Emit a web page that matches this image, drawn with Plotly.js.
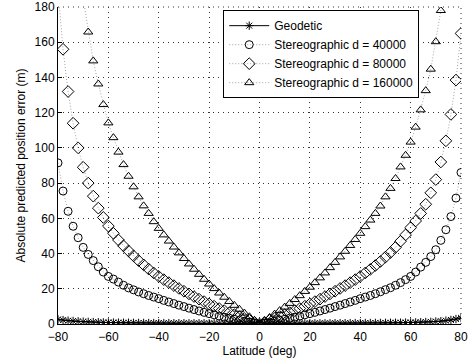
<!DOCTYPE html>
<html>
<head>
<meta charset="utf-8">
<script src="https://cdn.plot.ly/plotly-3.0.1.min.js"></script>
<style>html,body{margin:0;padding:0;background:#fff;}#chart{width:470px;height:362px;}</style>
</head>
<body>
<div id="chart"></div>
<script>
// Latitude (deg), every 2 degrees from -80 to 80
var latitude = [-80,-78,-76,-74,-72,-70,-68,-66,-64,-62,-60,-58,-56,-54,-52,-50,-48,-46,-44,-42,-40,
  -38,-36,-34,-32,-30,-28,-26,-24,-22,-20,-18,-16,-14,-12,-10,-8,-6,-4,-2,0,
  2,4,6,8,10,12,14,16,18,20,22,24,26,28,30,32,34,36,38,40,
  42,44,46,48,50,52,54,56,58,60,62,64,66,68,70,72,74,76,78,80];

var geodetic = [2.6,2.2,1.9,1.7,1.5,1.3,1.2,1.1,1.0,0.9,0.85,0.8,0.75,0.7,0.7,0.65,0.6,0.6,0.55,0.55,0.5,
  0.5,0.5,0.45,0.45,0.45,0.4,0.4,0.4,0.4,0.35,0.35,0.35,0.35,0.3,0.3,0.3,0.3,0.3,0.3,0.3,
  0.3,0.3,0.3,0.3,0.3,0.3,0.35,0.35,0.35,0.35,0.4,0.4,0.4,0.4,0.45,0.45,0.45,0.5,0.5,0.5,
  0.55,0.55,0.6,0.6,0.65,0.7,0.7,0.75,0.8,0.85,0.9,1.0,1.1,1.2,1.4,1.6,1.9,2.3,2.8,3.5];

var stereo40k = [91.5,75.5,64,55.5,49,43.5,39.5,36,32.5,29.5,27,25.5,23.8,22,20.5,19.4,18.2,17.2,16.2,15.3,14.4,
  13.4,12.5,11.6,10.7,9.9,9.0,8.2,7.4,6.6,5.9,5.2,4.5,3.9,3.3,2.7,2.1,1.6,1.0,0.5,0,
  0.5,1.0,1.6,2.1,2.7,3.3,3.9,4.5,5.2,5.9,6.6,7.4,8.2,9.0,9.9,10.7,11.6,12.5,13.4,14.4,
  15.3,16.2,17.2,18.3,19.5,20.6,22,23.5,25.2,27,29.5,32.3,35,38.3,42.2,47.5,53.5,61,71.5,86];

var stereo80k = [190,156,132,114,100,89,80,72.6,65.8,60.5,55.6,51.5,47.7,44.4,41.5,38.7,36,33.6,31.2,29,27,
  25.2,23.5,21.8,20.2,18.6,17.1,15.6,14.1,12.7,11.4,10.1,8.8,7.6,6.4,5.3,4.2,3.1,2.1,1.0,0,
  1.0,2.1,3.1,4.2,5.3,6.4,7.6,8.8,10.1,11.4,12.7,14.1,15.6,17.1,18.6,20.2,21.8,23.5,25.2,27,
  29,31,33.2,35.5,38,40.6,43.5,47,50.6,54.7,58.5,62.8,68,74.5,82,92,104,119,138.5,165];

var stereo160k = [390,320,270,235,207,185,165.8,149.4,136.3,124.6,114.2,105.8,97.6,90.5,83.9,77.9,72.2,67.1,62.8,58.1,54.3,
  50.6,47.1,43.7,40.4,37.2,34.1,31.1,28.2,25.4,22.7,20.1,17.6,15.2,12.8,10.6,8.4,6.2,4.1,2.0,0,
  1.8,3.7,5.6,7.6,9.6,11.7,13.9,16.1,18.5,20.9,23.5,26.2,29,32,35,38.1,41.3,44.6,48,51.5,
  55.3,59,62.8,67,72.2,77,82.6,89.2,95.8,103.3,111.8,121.6,132.5,144.7,160.3,178,200,230,275,340];

var seriesNames = ['Geodetic','Stereographic d = 40000','Stereographic d = 80000','Stereographic d = 160000'];
var xTicks = [-80,-60,-40,-20,0,20,40,60,80];
var yTicks = [0,20,40,60,80,100,120,140,160,180];

var font = {family: 'Liberation Sans, Arial, Helvetica, sans-serif', size: 12, color: '#000'};
var dotLine = {color: '#666', width: 0.6, dash: '1px,2px'};
var gridStyle = {color: '#333', width: 1, dash: '1px,4px'};

var traces = [
  {x: latitude, y: geodetic, name: seriesNames[0], mode: 'lines+markers',
   line: {color: '#000', width: 1, dash: 'solid'},
   marker: {symbol: 'asterisk-open', size: 7, color: '#000', line: {color: '#000', width: 1}}},
  {x: latitude, y: stereo40k, name: seriesNames[1], mode: 'lines+markers',
   line: dotLine,
   marker: {symbol: 'circle-open', size: 8, color: '#000', line: {color: '#000', width: 1}}},
  {x: latitude, y: stereo80k, name: seriesNames[2], mode: 'lines+markers',
   line: dotLine,
   marker: {symbol: 'diamond-open', size: 9, color: '#000', line: {color: '#000', width: 1}}},
  {x: latitude, y: stereo160k, name: seriesNames[3], mode: 'lines+markers',
   line: dotLine,
   marker: {symbol: 'triangle-up-open', size: 8, color: '#000', line: {color: '#000', width: 1}}}
];

var layout = {
  width: 470, height: 362,
  margin: {l: 58, r: 9, t: 7, b: 38},
  paper_bgcolor: '#fff', plot_bgcolor: '#fff',
  font: font,
  showlegend: true,
  legend: {x: 0.41, y: 0.99, xanchor: 'left', yanchor: 'top',
           bgcolor: '#fff', bordercolor: '#000', borderwidth: 1,
           font: font, itemwidth: 40, tracegroupgap: 0},
  shapes: [
    {type: 'line', xref: 'paper', yref: 'paper', x0: 0, x1: 1, y0: 1, y1: 1, line: gridStyle, layer: 'below'},
    {type: 'line', xref: 'paper', yref: 'paper', x0: 1, x1: 1, y0: 0, y1: 1, line: gridStyle, layer: 'below'}
  ],
  xaxis: {
    range: [-80, 80], tickvals: xTicks, ticktext: xTicks.map(function(v){return v < 0 ? '\u2212' + Math.abs(v) : String(v);}),
    showline: true, linecolor: '#000', linewidth: 1, mirror: false,
    ticks: 'inside', ticklen: 4, tickcolor: '#000', ticklabelstandoff: 2, ticklabeloverflow: 'allow',
    showgrid: true, gridcolor: gridStyle.color, griddash: gridStyle.dash, gridwidth: 1,
    zeroline: false, tickfont: font,
    title: {text: 'Latitude (deg)', font: font, standoff: 3}
  },
  yaxis: {
    range: [0, 180], tickvals: yTicks, ticklabeloverflow: 'allow',
    showline: true, linecolor: '#000', linewidth: 1, mirror: false,
    ticks: 'inside', ticklen: 4, tickcolor: '#000',
    showgrid: true, gridcolor: gridStyle.color, griddash: gridStyle.dash, gridwidth: 1,
    zeroline: false, tickfont: font,
    title: {text: 'Absolute predicted position error (m)', font: font, standoff: 6}
  }
};

Plotly.newPlot('chart', traces, layout, {displayModeBar: false, staticPlot: true});
</script>
</body>
</html>
